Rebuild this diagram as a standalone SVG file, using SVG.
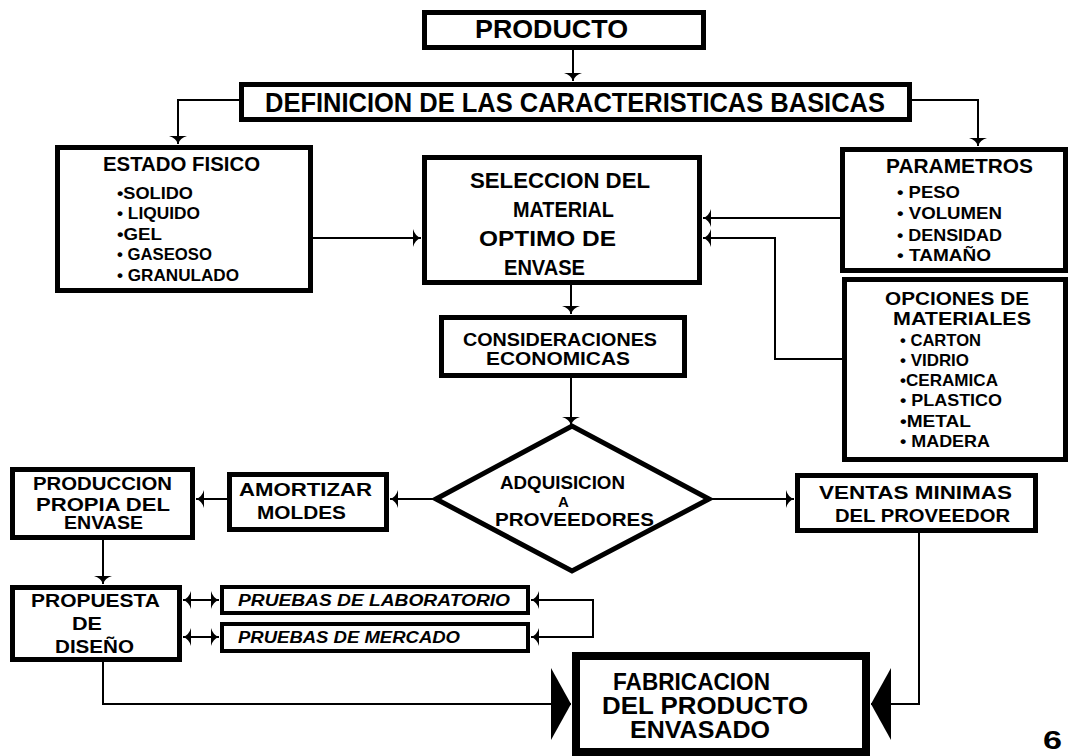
<svg xmlns="http://www.w3.org/2000/svg" width="1070" height="756" viewBox="0 0 1070 756">
<style>
.box{fill:#fff;stroke:#000;stroke-width:5}
.thin{stroke-width:4}
.fab{stroke-width:8}
.conn{fill:none;stroke:#000;stroke-width:2}
.t{font-family:"Liberation Sans",Arial,sans-serif;font-weight:bold;fill:#000}
.it{font-style:italic}
.i{font-size:16.5px}
</style>
<defs>
<marker id="arr" markerUnits="userSpaceOnUse" markerWidth="12" markerHeight="22" refX="8" refY="9" orient="auto-start-reverse" viewBox="0 0 12 18">
<path d="M0,0 Q2,7 8,9 Q2,11 0,18 Z" fill="#000"/>
</marker>
<marker id="big" markerUnits="userSpaceOnUse" markerWidth="22" markerHeight="74" refX="20" refY="36" orient="auto" viewBox="0 0 22 72">
<path d="M0,0 L20,36 L0,72 Z" fill="#000"/>
</marker>
</defs>
<rect width="1070" height="756" fill="#fff"/>

<g id="connectors">
<path class="conn" d="M573,50 V81" marker-end="url(#arr)"/>
<path class="conn" d="M239,100 H178 V144" marker-end="url(#arr)"/>
<path class="conn" d="M912,100 H978 V146" marker-end="url(#arr)"/>
<path class="conn" d="M313,238 H421" marker-end="url(#arr)"/>
<path class="conn" d="M840,218 H703" marker-end="url(#arr)"/>
<path class="conn" d="M842,359 H775 V238 H703" marker-end="url(#arr)"/>
<path class="conn" d="M571,285 V314" marker-end="url(#arr)"/>
<path class="conn" d="M571,378 V425" marker-end="url(#arr)"/>
<path class="conn" d="M436,499 H390" marker-end="url(#arr)"/>
<path class="conn" d="M227,499 H196" marker-end="url(#arr)"/>
<path class="conn" d="M709,499 H794" marker-end="url(#arr)"/>
<path class="conn" d="M103,540 V584" marker-end="url(#arr)"/>
<path class="conn" d="M183,600 H219" marker-start="url(#arr)" marker-end="url(#arr)"/>
<path class="conn" d="M183,637 H219" marker-start="url(#arr)" marker-end="url(#arr)"/>
<path class="conn" d="M531,600 H593 V637 H531" marker-start="url(#arr)" marker-end="url(#arr)"/>
<path class="conn" d="M103,662 V704 H571" marker-end="url(#big)"/>
<path class="conn" d="M919,533 V704 H871" marker-end="url(#big)"/>
</g>

<g id="producto">
<rect class="box" x="424.5" y="12.5" width="279" height="35"/>
<text class="t" x="475" y="38" font-size="25" textLength="153" lengthAdjust="spacingAndGlyphs">PRODUCTO</text>
</g>

<g id="definicion">
<rect class="box" x="241.5" y="84.5" width="668" height="35"/>
<text class="t" x="265" y="112" font-size="28" textLength="620" lengthAdjust="spacingAndGlyphs">DEFINICION DE LAS CARACTERISTICAS BASICAS</text>
</g>

<g id="estado">
<rect class="box" x="57.5" y="147.5" width="253" height="143"/>
<text class="t" x="103" y="171" font-size="20" textLength="157" lengthAdjust="spacingAndGlyphs">ESTADO FISICO</text>
<text class="t i" x="117" y="199" textLength="76" lengthAdjust="spacingAndGlyphs">•SOLIDO</text>
<text class="t i" x="117" y="219" textLength="83" lengthAdjust="spacingAndGlyphs">• LIQUIDO</text>
<text class="t i" x="117" y="240" textLength="45" lengthAdjust="spacingAndGlyphs">•GEL</text>
<text class="t i" x="117" y="260" textLength="95" lengthAdjust="spacingAndGlyphs">• GASEOSO</text>
<text class="t i" x="117" y="281" textLength="122" lengthAdjust="spacingAndGlyphs">• GRANULADO</text>
</g>

<g id="seleccion">
<rect class="box" x="424.5" y="157.5" width="275" height="125"/>
<text class="t" x="470" y="188" font-size="22" textLength="180" lengthAdjust="spacingAndGlyphs">SELECCION DEL</text>
<text class="t" x="513" y="217" font-size="22" textLength="101" lengthAdjust="spacingAndGlyphs">MATERIAL</text>
<text class="t" x="479" y="246" font-size="22" textLength="137" lengthAdjust="spacingAndGlyphs">OPTIMO DE</text>
<text class="t" x="504" y="275" font-size="22" textLength="81" lengthAdjust="spacingAndGlyphs">ENVASE</text>
</g>

<g id="parametros">
<rect class="box" x="842.5" y="149.5" width="223" height="121"/>
<text class="t" x="886" y="173" font-size="20" textLength="147" lengthAdjust="spacingAndGlyphs">PARAMETROS</text>
<text class="t i" x="897" y="198" textLength="63" lengthAdjust="spacingAndGlyphs">• PESO</text>
<text class="t i" x="897" y="219" textLength="105" lengthAdjust="spacingAndGlyphs">• VOLUMEN</text>
<text class="t i" x="897" y="241" textLength="105" lengthAdjust="spacingAndGlyphs">• DENSIDAD</text>
<text class="t i" x="897" y="261" textLength="94" lengthAdjust="spacingAndGlyphs">• TAMAÑO</text>
</g>

<g id="opciones">
<rect class="box" x="844.5" y="279.5" width="221" height="180"/>
<text class="t" x="885" y="305" font-size="18" textLength="144" lengthAdjust="spacingAndGlyphs">OPCIONES DE</text>
<text class="t" x="893" y="325" font-size="18" textLength="138" lengthAdjust="spacingAndGlyphs">MATERIALES</text>
<text class="t i" x="900" y="346" textLength="81" lengthAdjust="spacingAndGlyphs">• CARTON</text>
<text class="t i" x="900" y="366" textLength="69" lengthAdjust="spacingAndGlyphs">• VIDRIO</text>
<text class="t i" x="900" y="386" textLength="98" lengthAdjust="spacingAndGlyphs">•CERAMICA</text>
<text class="t i" x="900" y="406" textLength="102" lengthAdjust="spacingAndGlyphs">• PLASTICO</text>
<text class="t i" x="900" y="427" textLength="71" lengthAdjust="spacingAndGlyphs">•METAL</text>
<text class="t i" x="900" y="447" textLength="90" lengthAdjust="spacingAndGlyphs">• MADERA</text>
</g>

<g id="consideraciones">
<rect class="box" x="441.5" y="317.5" width="243" height="58"/>
<text class="t" x="463" y="346" font-size="18" textLength="194" lengthAdjust="spacingAndGlyphs">CONSIDERACIONES</text>
<text class="t" x="486" y="365" font-size="18" textLength="144" lengthAdjust="spacingAndGlyphs">ECONOMICAS</text>
</g>

<g id="adquisicion">
<polygon points="436,499 572,426 709,499 572,571" fill="#fff" stroke="#000" stroke-width="5" stroke-linejoin="miter"/>
<text class="t" x="500" y="489" font-size="18" textLength="125" lengthAdjust="spacingAndGlyphs">ADQUISICION</text>
<text class="t" x="558" y="507" font-size="15">A</text>
<text class="t" x="495" y="526" font-size="18" textLength="159" lengthAdjust="spacingAndGlyphs">PROVEEDORES</text>
</g>

<g id="amortizar">
<rect class="box" x="229.5" y="474.5" width="157" height="55"/>
<text class="t" x="239" y="496" font-size="19" textLength="133" lengthAdjust="spacingAndGlyphs">AMORTIZAR</text>
<text class="t" x="257" y="519" font-size="19" textLength="89" lengthAdjust="spacingAndGlyphs">MOLDES</text>
</g>

<g id="produccion">
<rect class="box" x="12.5" y="469.5" width="180" height="68"/>
<text class="t" x="33" y="490" font-size="18" textLength="139" lengthAdjust="spacingAndGlyphs">PRODUCCION</text>
<text class="t" x="36" y="511" font-size="18" textLength="134" lengthAdjust="spacingAndGlyphs">PROPIA DEL</text>
<text class="t" x="64" y="529" font-size="18" textLength="79" lengthAdjust="spacingAndGlyphs">ENVASE</text>
</g>

<g id="ventas">
<rect class="box" x="797.5" y="475.5" width="238" height="55"/>
<text class="t" x="819" y="499" font-size="19" textLength="193" lengthAdjust="spacingAndGlyphs">VENTAS MINIMAS</text>
<text class="t" x="835" y="522" font-size="19" textLength="175" lengthAdjust="spacingAndGlyphs">DEL PROVEEDOR</text>
</g>

<g id="propuesta">
<rect class="box" x="12.5" y="587.5" width="167" height="72"/>
<text class="t" x="31" y="607" font-size="18" textLength="129" lengthAdjust="spacingAndGlyphs">PROPUESTA</text>
<text class="t" x="72" y="630" font-size="18" textLength="30" lengthAdjust="spacingAndGlyphs">DE</text>
<text class="t" x="55" y="653" font-size="18" textLength="79" lengthAdjust="spacingAndGlyphs">DISEÑO</text>
</g>

<g id="laboratorio">
<rect class="box thin" x="222" y="587" width="306" height="26"/>
<text class="t it" x="238" y="606" font-size="16" textLength="272" lengthAdjust="spacingAndGlyphs">PRUEBAS DE LABORATORIO</text>
</g>

<g id="mercado">
<rect class="box thin" x="222" y="624" width="306" height="27"/>
<text class="t it" x="238" y="643" font-size="16" textLength="222" lengthAdjust="spacingAndGlyphs">PRUEBAS DE MERCADO</text>
</g>

<g id="fabricacion">
<rect class="box fab" x="576" y="656" width="290" height="96"/>
<text class="t" x="613" y="690" font-size="23" textLength="157" lengthAdjust="spacingAndGlyphs">FABRICACION</text>
<text class="t" x="602" y="714" font-size="23" textLength="206" lengthAdjust="spacingAndGlyphs">DEL PRODUCTO</text>
<text class="t" x="630" y="738" font-size="23" textLength="140" lengthAdjust="spacingAndGlyphs">ENVASADO</text>
</g>

<text class="t" x="1043" y="749" font-size="26" textLength="19" lengthAdjust="spacingAndGlyphs">6</text>
</svg>
